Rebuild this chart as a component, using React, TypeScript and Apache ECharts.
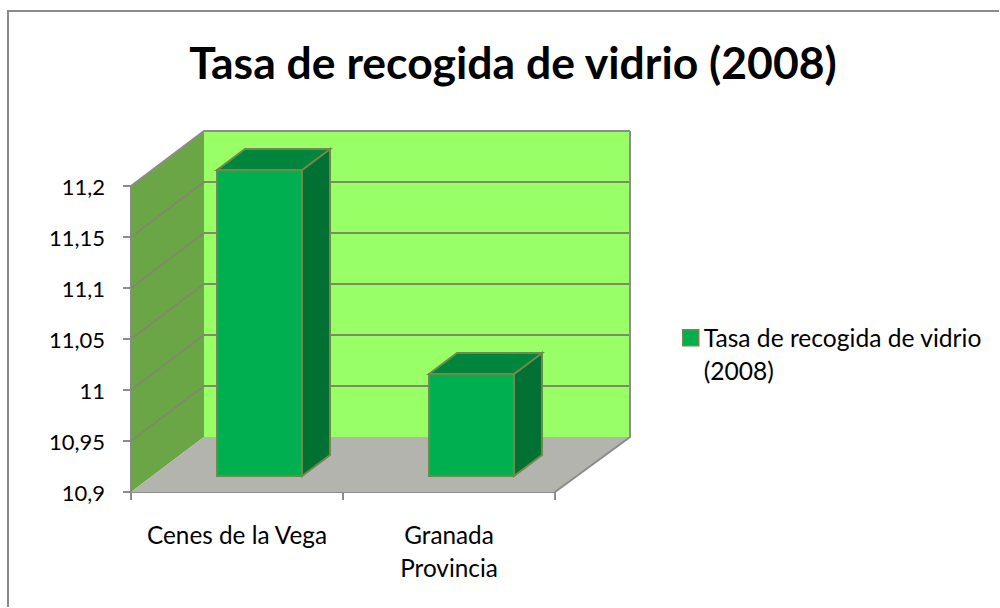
import React, { useEffect, useRef } from "react";
import * as echarts from "echarts";

const titleText = "Tasa de recogida de vidrio (2008)";
const seriesName = "Tasa de recogida de vidrio (2008)";
const categories = ["Cenes de la Vega", "Granada Provincia"];
const values = [11.2, 11.0];
const gridTicks = [10.95, 11, 11.05, 11.1, 11.15, 11.2];
const yMin = 10.9;
const yMax = 11.2;
const yStep = 0.05;

const FONT = "Lato";
const DX = 73;
const DY = -55;
const FACE_DX = 22.5;
const FACE_DY = -16;
const SIDE_DX = 28;
const SIDE_DY = -21;
const BAR_W = 85;
const GRID_LINE = "#7f8a66";
const EDGE = "#8c8c8c";
const BAR_EDGE = "#72894c";

export default function App() {
  const ref = useRef<HTMLDivElement>(null);
  useEffect(() => {
    document.body.style.margin = "0";
    const chart = echarts.init(ref.current!, undefined, { renderer: "svg" });
    const poly = (points: number[][], fill: string, stroke = "none", lineWidth = 0) => ({
      type: "polygon",
      shape: { points },
      style: { fill, stroke, lineWidth },
    });
    const line = (points: number[][], stroke: string, lineWidth = 2) => ({
      type: "polyline",
      shape: { points },
      style: { fill: "none", stroke, lineWidth },
    });
    const renderRoom = (params: any, api: any) => {
      const bl = api.coord([0, yMin]);
      const cs = params.coordSys;
      const x0 = cs.x;
      const x1 = cs.x + cs.width;
      const yb = bl[1];
      const yt = cs.y;
      const children: any[] = [
        poly([[x0 + DX, yt + DY], [x1 + DX + 2, yt + DY], [x1 + DX + 2, yb + DY], [x0 + DX, yb + DY]], "#99ff66"),
        poly([[x0, yt], [x0 + DX, yt + DY], [x0 + DX, yb + DY], [x0, yb]], "#6aa646"),
        poly([[x0, yb], [x0 + DX, yb + DY], [x1 + DX + 2, yb + DY], [x1, yb]], "#b3b4ad"),
      ];
      gridTicks.forEach((t) => {
        const y = api.coord([0, t])[1];
        const isTop = t === yMax;
        children.push(
          line([[x0, y], [x0 + DX, y + DY], [x1 + DX + 2, y + DY]], isTop ? EDGE : GRID_LINE, 2)
        );
      });
      children.push(line([[x1 + DX + 2, yt + DY], [x1 + DX + 2, yb + DY], [x1, yb]], EDGE, 2));
      return { type: "group", children };
    };
    const renderBar = (_params: any, api: any) => {
      const i = api.value(0);
      const top = api.coord([i, api.value(1)]);
      const bottom = api.coord([i, yMin]);
      const l = top[0] + FACE_DX - BAR_W / 2;
      const r = l + BAR_W;
      const t = top[1] + FACE_DY;
      const b = bottom[1] + FACE_DY;
      return {
        type: "group",
        children: [
          poly([[r, t], [r + SIDE_DX, t + SIDE_DY], [r + SIDE_DX, b + SIDE_DY], [r, b]], "#007033", BAR_EDGE, 2),
          poly([[l, t], [l + SIDE_DX, t + SIDE_DY], [r + SIDE_DX, t + SIDE_DY], [r, t]], "#00853c", BAR_EDGE, 2),
          poly([[l, t], [r, t], [r, b], [l, b]], "#00b050", BAR_EDGE, 2),
        ],
      };
    };
    chart.setOption({
      animation: false,
      backgroundColor: "#ffffff",
      title: {
        text: titleText,
        left: 508,
        top: 34,
        textAlign: "center",
        textStyle: { fontFamily: FONT, fontSize: 44.5, fontWeight: "bold", color: "#000" },
      },
      legend: {
        left: 677,
        top: 315,
        orient: "vertical",
        data: [{ name: seriesName, icon: "path://M0 0M0 66M16 66M16 0M0 9H16V25H0Z" }],
        itemWidth: 16,
        itemHeight: 66,
        itemGap: 0,
        selectedMode: false,
        formatter: () => "Tasa de recogida de vidrio\n(2008)",
        itemStyle: { color: "#00b050", borderColor: BAR_EDGE, borderWidth: 1.5 },
        textStyle: { fontFamily: FONT, fontSize: 24.6, color: "#000", lineHeight: 33 },
      },
      grid: { left: 131, top: 186, width: 424, height: 306, containLabel: false },
      xAxis: {
        type: "category",
        data: categories,
        boundaryGap: true,
        axisLine: { lineStyle: { color: EDGE, width: 2 } },
        axisTick: { show: true, length: 8, alignWithLabel: false, lineStyle: { color: EDGE, width: 2 } },
        axisLabel: {
          interval: 0,
          margin: 26,
          fontFamily: FONT,
          fontSize: 24.3,
          color: "#000",
          lineHeight: 33,
          formatter: (v: string) =>
            v === categories[1] ? v.split(" ").map((w) => `{g|${w}}`).join("\n") : v,
          rich: { g: { fontFamily: FONT, fontSize: 24.3, color: "#000", lineHeight: 33 } },
        },
      },
      yAxis: {
        type: "value",
        min: yMin,
        max: yMax,
        interval: yStep,
        splitLine: { show: false },
        axisLine: { show: true, lineStyle: { color: EDGE, width: 2 } },
        axisTick: { show: true, length: 8, lineStyle: { color: EDGE, width: 2 } },
        axisLabel: {
          margin: 26,
          fontFamily: FONT,
          fontSize: 22,
          color: "#000",
          formatter: (v: number) => String(Math.round(v * 100) / 100).replace(".", ","),
        },
      },
      series: [
        {
          name: "room",
          type: "custom",
          coordinateSystem: "cartesian2d",
          clip: false,
          silent: true,
          z: 1,
          renderItem: renderRoom,
          data: [[0, yMin]],
        },
        {
          name: seriesName,
          type: "custom",
          coordinateSystem: "cartesian2d",
          clip: false,
          z: 3,
          encode: { x: 0, y: 1 },
          renderItem: renderBar,
          itemStyle: { color: "#00b050" },
          data: values.map((v, i) => [i, v]),
        },
      ],
      graphic: [
        {
          type: "polyline",
          z: 10,
          shape: { points: [[8, 607], [8, 11], [999, 11]] },
          style: { fill: "none", stroke: "#8a8a8a", lineWidth: 2 },
        },
      ],
    });
    return () => chart.dispose();
  }, []);
  return <div ref={ref} style={{ position: "absolute", left: 0, top: 0, width: 1000, height: 608 }} />;
}
